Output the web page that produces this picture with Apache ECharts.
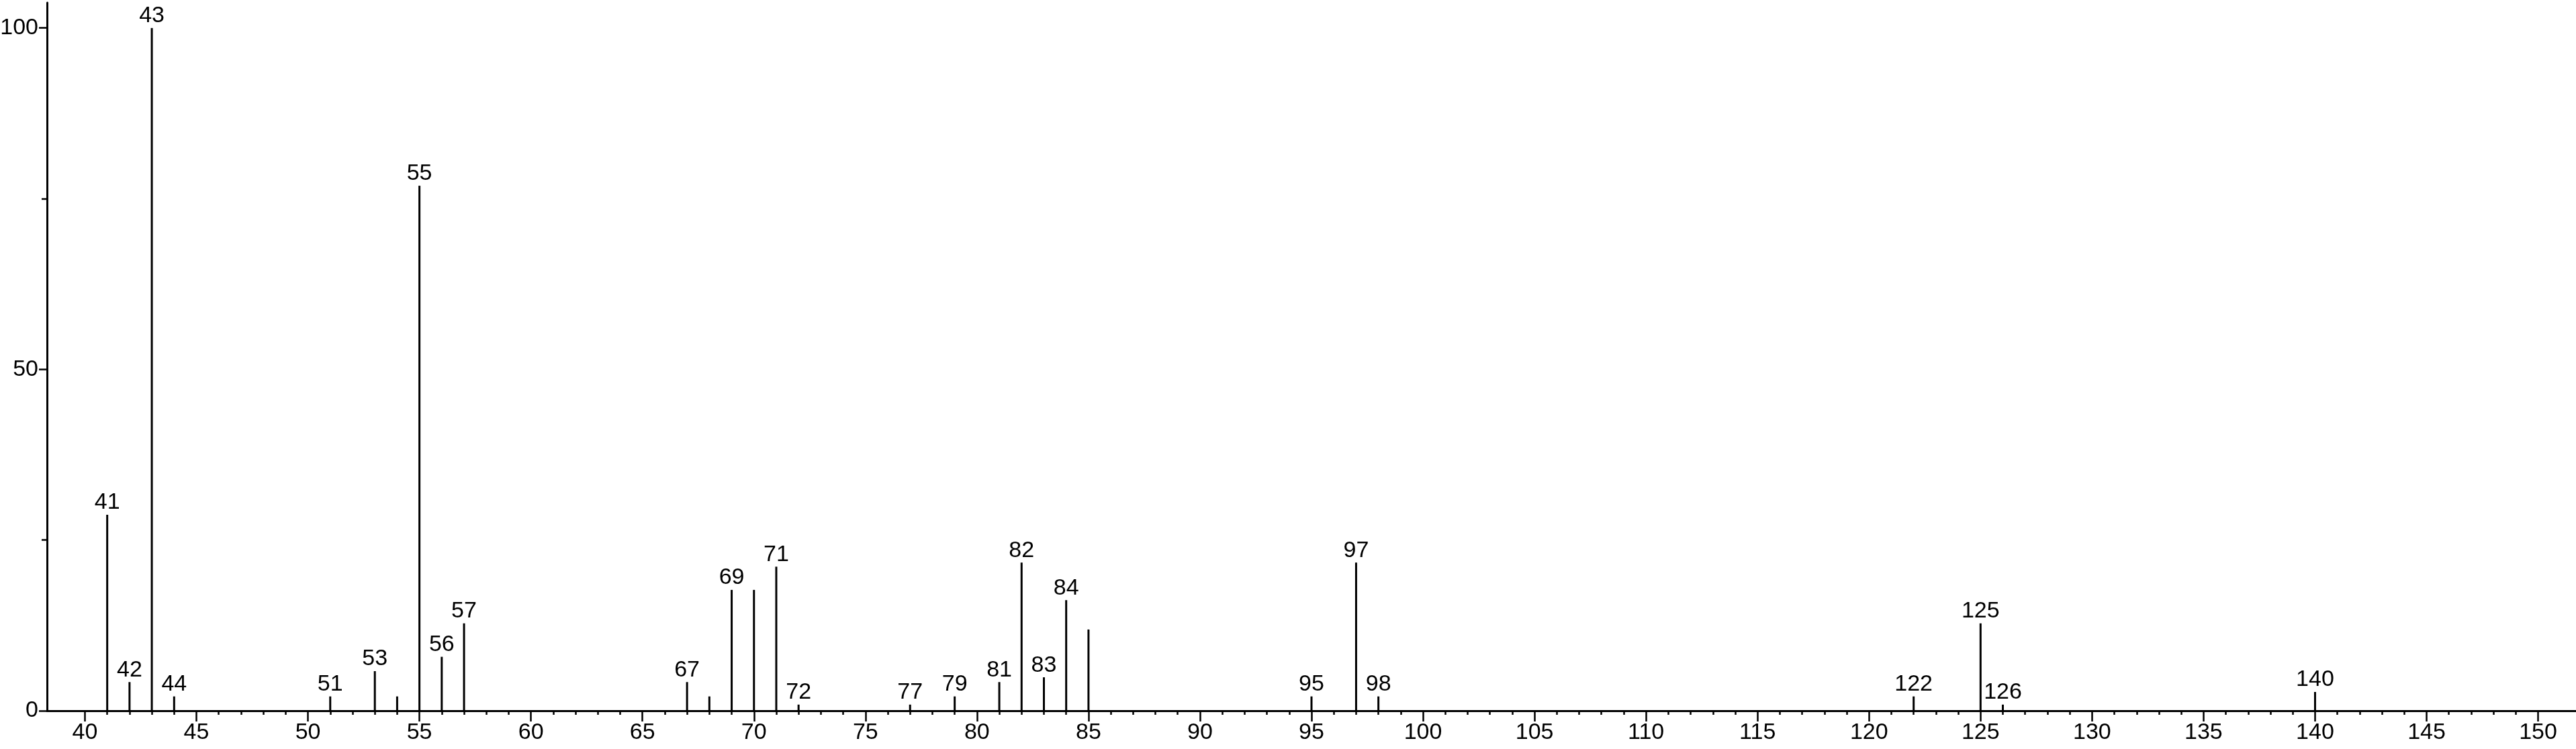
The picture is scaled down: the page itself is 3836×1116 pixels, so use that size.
<!DOCTYPE html>
<html>
<head>
<meta charset="utf-8">
<script src="https://cdn.jsdelivr.net/npm/echarts@6/dist/echarts.min.js"></script>
<style>
html,body{margin:0;padding:0;background:#fff;}
#chart{width:3836px;height:1116px;}
</style>
</head>
<body>
<div id="chart"></div>
<script>
// m/z values of the peaks
var mz = [41, 42, 43, 44, 51, 53, 54, 55, 56, 57, 67, 68, 69, 70, 71, 72, 77, 79, 81, 82, 83, 84, 85, 95, 97, 98, 122, 125, 126, 140];
// relative intensities (%)
var intensity = [28.7, 4.2, 100, 2.1, 2.1, 5.8, 2.1, 76.9, 7.9, 12.8, 4.2, 2.1, 17.7, 17.7, 21.1, 0.9, 0.9, 2.1, 4.2, 21.7, 4.9, 16.2, 11.9, 2.1, 21.7, 2.1, 2.1, 12.8, 0.9, 2.75];
// peaks that carry a text label
var labelled = [41, 42, 43, 44, 51, 53, 55, 56, 57, 67, 69, 71, 72, 77, 79, 81, 82, 83, 84, 95, 97, 98, 122, 125, 126, 140];
// axis tick labels
var xMajorTicks = [40, 45, 50, 55, 60, 65, 70, 75, 80, 85, 90, 95, 100, 105, 110, 115, 120, 125, 130, 135, 140, 145, 150];
var xMinorTicks = [41,42,43,44,46,47,48,49,51,52,53,54,56,57,58,59,61,62,63,64,66,67,68,69,71,72,73,74,76,77,78,79,81,82,83,84,86,87,88,89,91,92,93,94,96,97,98,99,101,102,103,104,106,107,108,109,111,112,113,114,116,117,118,119,121,122,123,124,126,127,128,129,131,132,133,134,136,137,138,139,141,142,143,144,146,147,148,149];
var yMajorTicks = [0, 50, 100];
var yMinorTicks = [25, 75];

var FONT = "'Liberation Sans', Arial, sans-serif";
var data = mz.map(function (m, i) {
  return {
    value: [m, intensity[i]],
    label: { show: labelled.indexOf(m) >= 0 }
  };
});

var X_MIN = 38.3, X_MAX = 151.7, Y_MAX = 103.7;

var chart = echarts.init(document.getElementById('chart'), null, { renderer: 'canvas' });
chart.setOption({
  animation: false,
  backgroundColor: '#ffffff',
  grid: { left: 70, right: 0, top: 4, bottom: 57, containLabel: false, outerBoundsMode: 'none' },
  xAxis: [
    {
      type: 'value', min: X_MIN, max: X_MAX, position: 'bottom',
      axisLine: { show: true, onZero: false, lineStyle: { color: '#000', width: 3 } },
      axisTick: { show: true, customValues: xMajorTicks, length: 16, inside: false, lineStyle: { color: '#000', width: 2.5 } },
      axisLabel: { show: true, customValues: xMajorTicks, margin: 16, color: '#000', fontSize: 34, fontFamily: FONT },
      splitLine: { show: false }
    },
    {
      type: 'value', min: X_MIN, max: X_MAX, position: 'bottom',
      axisLine: { show: false },
      axisTick: { show: true, customValues: xMinorTicks, length: 6, inside: false, lineStyle: { color: '#000', width: 2.5 } },
      axisLabel: { show: false },
      splitLine: { show: false }
    }
  ],
  yAxis: [
    {
      type: 'value', min: 0, max: Y_MAX, position: 'left',
      axisLine: { show: true, onZero: false, lineStyle: { color: '#000', width: 3 } },
      axisTick: { show: true, customValues: yMajorTicks, length: 12, inside: false, lineStyle: { color: '#000', width: 2.5 } },
      axisLabel: { show: true, customValues: yMajorTicks, margin: 13, color: '#000', fontSize: 34, fontFamily: FONT },
      splitLine: { show: false }
    },
    {
      type: 'value', min: 0, max: Y_MAX, position: 'left',
      axisLine: { show: false },
      axisTick: { show: true, customValues: yMinorTicks, length: 8, inside: false, lineStyle: { color: '#000', width: 2.5 } },
      axisLabel: { show: false },
      splitLine: { show: false }
    }
  ],
  series: [
    {
      type: 'bar',
      xAxisIndex: 0,
      yAxisIndex: 0,
      barWidth: 3,
      itemStyle: { color: '#000' },
      label: {
        position: 'top',
        distance: 1,
        color: '#000',
        fontSize: 34,
        fontFamily: FONT,
        formatter: function (p) { return String(p.value[0]); }
      },
      data: data
    }
  ]
});
</script>
</body>
</html>
